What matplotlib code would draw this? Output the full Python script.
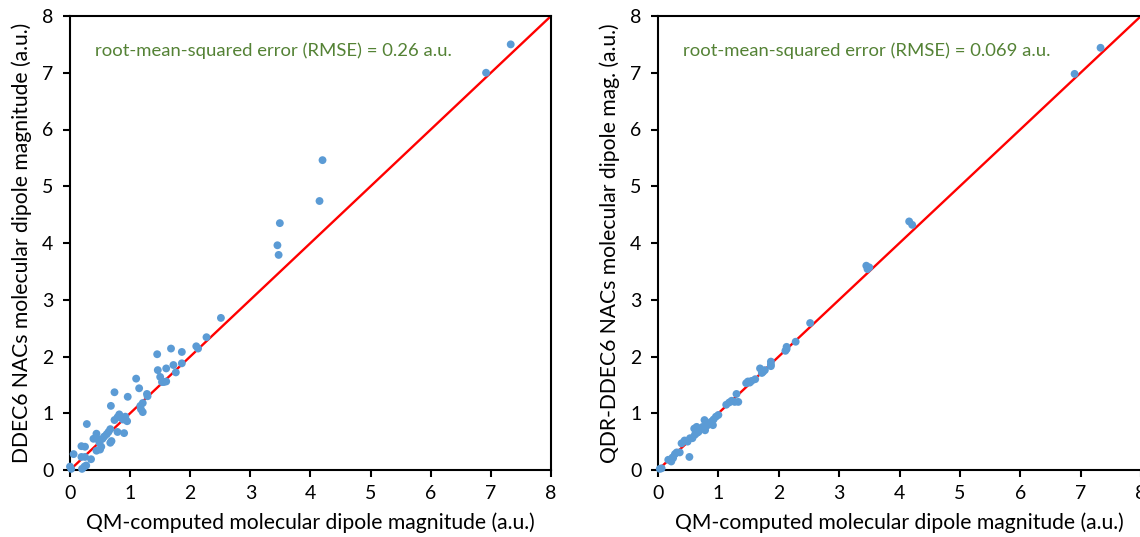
import matplotlib
matplotlib.use("Agg")
import matplotlib.pyplot as plt

plt.rcParams['font.family'] = ['Lato', 'DejaVu Sans']

# ---- Data: left panel (DDEC6 NACs) ----
qm_left = [7.33, 6.92, 4.20, 4.15, 3.49, 3.45, 3.47, 2.51, 2.27, 2.10, 2.13, 1.86, 1.68,
           1.45, 1.86, 1.72, 1.60, 1.46, 1.76, 1.50, 1.53, 1.56, 1.60, 1.15, 1.28, 1.29,
           0.02, 0.06, 0.00, 0.19, 0.25, 0.20, 0.24, 0.27, 0.35, 0.19, 0.25, 0.28, 0.39,
           0.44, 0.45, 0.49, 0.52, 0.44, 0.50, 0.54, 0.57, 0.61, 0.64, 0.67, 0.69, 0.67,
           0.68, 0.74, 0.74, 0.79, 0.82, 0.85, 0.88, 0.92, 0.95, 0.79, 0.90, 0.96, 1.10,
           1.17, 1.21, 1.18, 1.21]
ddec6_left = [7.50, 7.00, 5.46, 4.74, 4.35, 3.96, 3.79, 2.68, 2.34, 2.18, 2.14, 2.08, 2.14,
              2.04, 1.88, 1.85, 1.79, 1.76, 1.72, 1.64, 1.55, 1.55, 1.56, 1.44, 1.34, 1.30,
              0.02, 0.28, 0.06, 0.23, 0.23, 0.02, 0.06, 0.08, 0.19, 0.42, 0.41, 0.81, 0.55,
              0.64, 0.55, 0.48, 0.41, 0.34, 0.36, 0.55, 0.59, 0.63, 0.67, 0.72, 0.51, 0.48,
              1.13, 1.37, 0.88, 0.93, 0.98, 0.93, 0.89, 0.94, 0.86, 0.67, 0.65, 1.29, 1.61,
              1.13, 1.18, 1.07, 1.02]

# ---- Data: right panel (QDR-DDEC6 NACs) ----
qm_right = [7.33, 6.90, 4.16, 4.21, 3.45, 3.50, 3.47, 2.52, 2.28, 2.13, 2.11, 2.13, 1.87,
            1.87, 1.87, 1.69, 1.74, 1.72, 1.77, 0.03, 0.06, 0.17, 0.22, 0.24, 0.28, 0.31,
            0.25, 0.36, 0.52, 0.39, 0.44, 0.49, 0.53, 0.57, 0.61, 0.64, 0.67, 0.70, 0.74,
            0.77, 0.78, 0.81, 0.85, 0.88, 0.92, 0.96, 1.00, 0.91, 0.60, 0.64, 1.13, 1.18,
            1.22, 1.27, 1.30, 1.33, 1.46, 1.49, 1.52, 1.55, 1.61]
qdr_right = [7.44, 6.98, 4.38, 4.32, 3.60, 3.57, 3.54, 2.59, 2.26, 2.17, 2.10, 2.13, 1.91,
             1.86, 1.83, 1.79, 1.73, 1.71, 1.76, 0.02, 0.03, 0.18, 0.15, 0.22, 0.28, 0.31,
             0.21, 0.31, 0.23, 0.47, 0.52, 0.50, 0.56, 0.56, 0.62, 0.65, 0.67, 0.72, 0.76,
             0.88, 0.70, 0.78, 0.81, 0.85, 0.89, 0.94, 0.97, 0.79, 0.73, 0.76, 1.15, 1.19,
             1.22, 1.20, 1.34, 1.20, 1.53, 1.56, 1.54, 1.57, 1.60]

ticks = [0, 1, 2, 3, 4, 5, 6, 7, 8]
xlabel = "QM-computed molecular dipole magnitude (a.u.)"
ylabel_left = "DDEC6 NACs molecular dipole magnitude (a.u.)"
ylabel_right = "QDR-DDEC6 NACs molecular dipole mag. (a.u.)"
rmse_left = "root-mean-squared error (RMSE) = 0.26 a.u."
rmse_right = "root-mean-squared error (RMSE) = 0.069 a.u."

fig = plt.figure(figsize=(11.4, 5.37), dpi=100)
ax1 = fig.add_axes([70/1140, 67/537, 481/1140, 454/537])
ax2 = fig.add_axes([658/1140, 67/537, 483/1140, 454/537])

for ax, xs, ys, ylab, txt in [(ax1, qm_left, ddec6_left, ylabel_left, rmse_left),
                              (ax2, qm_right, qdr_right, ylabel_right, rmse_right)]:
    ax.axline((0, 0), slope=1, color='#FF0000', lw=1.7, zorder=2)
    ax.scatter(xs, ys, s=32, color='#5B9BD5', edgecolors='none', zorder=3, clip_on=False)
    ax.set_xlim(0, 8)
    ax.set_ylim(0, 8)
    ax.set_xticks(ticks)
    ax.set_yticks(ticks)
    for sp in ax.spines.values():
        sp.set_linewidth(1.5)
        sp.set_color('black')
    ax.tick_params(axis='both', direction='out', length=5, width=1.5, labelsize=14,
                   colors='black')
    ax.tick_params(axis='x', pad=6)
    ax.tick_params(axis='y', pad=7)
    ax.set_xlabel(xlabel, fontsize=15.2, labelpad=7)
    ax.set_ylabel(ylab, fontsize=15.2, labelpad=7)
    ax.text(0.41, 7.38, txt, color='#548235', fontsize=13.3, va='center', ha='left')

fig.savefig("out.png", dpi=100)
